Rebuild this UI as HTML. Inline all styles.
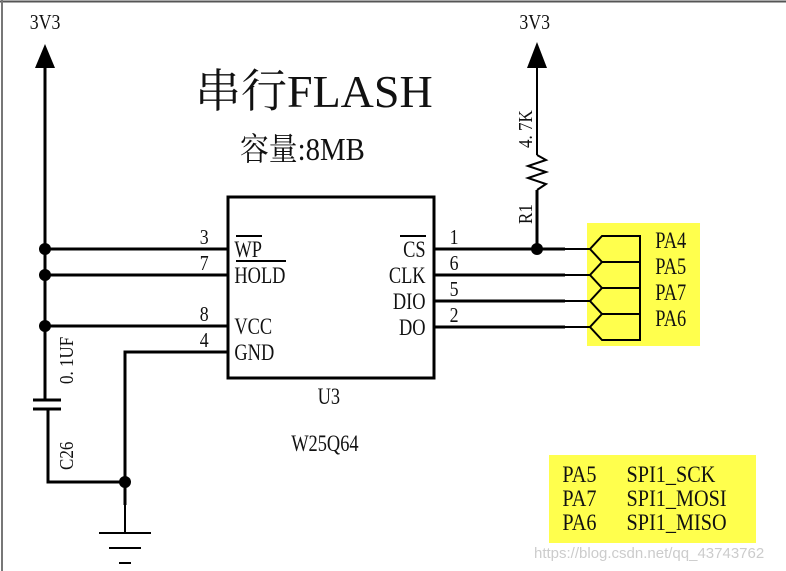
<!DOCTYPE html><html><head><style>body{margin:0;background:#fff}svg{display:block}text{font-family:"Liberation Serif","Noto Serif CJK SC",serif;fill:#111}</style></head><body>
<svg width="786" height="571" viewBox="0 0 786 571">
<rect x="0" y="0" width="786" height="571" fill="#fff"/>
<line x1="0" y1="1.5" x2="786" y2="1.5" stroke="#555" stroke-width="2"/>
<line x1="2" y1="0" x2="2" y2="571" stroke="#777" stroke-width="2"/>
<rect x="587" y="223" width="113" height="123" fill="#ffff4d"/>
<rect x="549" y="455" width="207" height="88" fill="#ffff4d"/>
<g stroke="#000" stroke-width="3" fill="none">
<line x1="45" y1="66" x2="45" y2="400"/>
<line x1="45" y1="249" x2="228" y2="249"/>
<line x1="45" y1="275" x2="228" y2="275"/>
<line x1="45" y1="326" x2="228" y2="326"/>
<polyline points="228,352 125,352 125,505"/>
<polyline points="48,409 48,482 125,482"/>
<line x1="33" y1="400" x2="61" y2="400"/>
<line x1="33" y1="409" x2="61" y2="409"/>
<rect x="228" y="197" width="206" height="181"/>
<line x1="434" y1="249" x2="565" y2="249"/>
<line x1="434" y1="275" x2="565" y2="275"/>
<line x1="434" y1="301" x2="565" y2="301"/>
<line x1="434" y1="327" x2="565" y2="327"/>
<line x1="537" y1="249" x2="537" y2="190"/>
</g>
<g stroke="#000" stroke-width="2" fill="none">
<line x1="125" y1="505" x2="125" y2="533"/>
<line x1="99" y1="533" x2="151" y2="533"/>
<line x1="109" y1="548" x2="141" y2="548"/>
<line x1="119" y1="563" x2="131" y2="563"/>
<line x1="537" y1="68" x2="537" y2="155"/>
<polyline points="537,155 546,160 528,166 546,172 528,178 546,184 537,190"/>
<line x1="565" y1="249" x2="590" y2="249"/>
<line x1="565" y1="275" x2="590" y2="275"/>
<line x1="565" y1="301" x2="590" y2="301"/>
<line x1="565" y1="327" x2="590" y2="327"/>
<polyline points="640,262 602,262 590,249 602,236 640,236 640,340 602,340 590,327 602,314 640,314"/>
<polyline points="640,288 602,288 590,275 602,262"/>
<polyline points="640,314 602,314 590,301 602,288 640,288"/>
<line x1="236" y1="236" x2="262" y2="236"/>
<line x1="236" y1="261" x2="286" y2="261"/>
<line x1="400" y1="236" x2="426" y2="236"/>
</g>
<polygon points="45,44 35,68 55,68" fill="#000"/>
<polygon points="537,42 527,68 547,68" fill="#000"/>
<g fill="#000"><circle cx="45" cy="249" r="6"/><circle cx="45" cy="275" r="6"/><circle cx="45" cy="326" r="6"/><circle cx="125" cy="482" r="6"/><circle cx="537" cy="249" r="6"/></g>
<g font-size="21" transform="scale(0.85,1)">
<text x="35" y="29">3V3</text><text x="611" y="29">3V3</text>
<text x="235" y="244">3</text><text x="235" y="270">7</text><text x="235" y="321">8</text><text x="235" y="347">4</text>
<text x="529" y="244">1</text><text x="529" y="270">6</text><text x="529" y="296">5</text><text x="529" y="322">2</text>
</g>
<g font-size="23" transform="scale(0.8,1)">
<text x="293" y="257">WP</text><text x="293" y="283">HOLD</text><text x="293" y="334">VCC</text><text x="293" y="360">GND</text>
<text x="532" y="257" text-anchor="end">CS</text><text x="532" y="283" text-anchor="end">CLK</text><text x="532" y="309" text-anchor="end">DIO</text><text x="532" y="335" text-anchor="end">DO</text>
<text x="397" y="404">U3</text><text x="364" y="451">W25Q64</text>
<text x="819" y="248">PA4</text><text x="819" y="274">PA5</text><text x="819" y="300">PA7</text><text x="819" y="326">PA6</text>
</g>
<g font-size="23" transform="scale(0.88,1)">
<text x="639" y="482">PA5</text><text x="712" y="482">SPI1_SCK</text>
<text x="639" y="506">PA7</text><text x="712" y="506">SPI1_MOSI</text>
<text x="639" y="530">PA6</text><text x="712" y="530">SPI1_MISO</text>
</g>
<g font-size="20">
<text transform="translate(73,384) rotate(-90) scale(0.85,1)">0. 1UF</text>
<text transform="translate(73,470) rotate(-90) scale(0.85,1)">C26</text>
<text transform="translate(532,148) rotate(-90) scale(0.85,1)">4. 7K</text>
<text transform="translate(532,224) rotate(-90) scale(0.85,1)">R1</text>
</g>
<text x="195" y="107" font-size="46">串行FLASH</text>
<text x="240" y="160" font-size="32" transform="translate(240,0) scale(0.9,1) translate(-240,0)">容量:8MB</text>
<text x="534" y="558" font-size="15" style="font-family:'Liberation Sans',sans-serif;fill:#ccc">https://blog.csdn.net/qq_43743762</text>
</svg></body></html>
